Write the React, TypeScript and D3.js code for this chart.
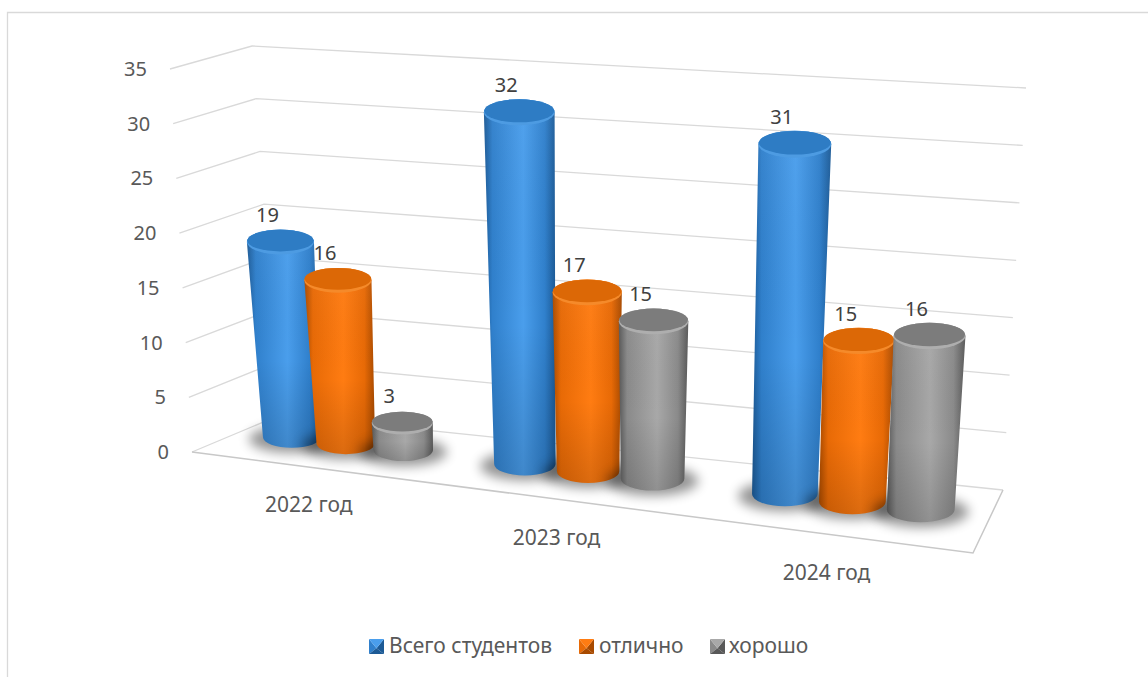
import React from "react";
import * as d3 from "d3";

const categories = ["2022 год", "2023 год", "2024 год"];
const seriesNames = ["Всего студентов", "отлично", "хорошо"];
const totalValues = [19, 32, 31];
const excellentValues = [16, 17, 15];
const goodValues = [3, 15, 16];
const seriesValues = [totalValues, excellentValues, goodValues];
const yTicks = [0, 5, 10, 15, 20, 25, 30, 35];

type P = [number, number];
// plot box corners: front-left, front-right, back-right, back-left
const floorQuad: P[] = [[192, 452], [973, 553], [1003, 490], [280, 415]];
const ceilQuad: P[] = [[170, 69], [1001, 138], [1026, 88], [252, 46]];

const bilinear = (q: P[]) => (u: number, w: number): P => {
  const fx = q[0][0] + (q[1][0] - q[0][0]) * u, fy = q[0][1] + (q[1][1] - q[0][1]) * u;
  const bx = q[3][0] + (q[2][0] - q[3][0]) * u, by = q[3][1] + (q[2][1] - q[3][1]) * u;
  return [fx + (bx - fx) * w, fy + (by - fy) * w];
};
const floorAt = bilinear(floorQuad);
const ceilAt = bilinear(ceilQuad);
const project = (u: number, w: number, t: number): P => {
  const a = floorAt(u, w), b = ceilAt(u, w);
  return [a[0] + (b[0] - a[0]) * t, a[1] + (b[1] - a[1]) * t];
};

const gridT = d3.scaleLinear().domain([0, 35]).range([0, 1]);
const barT = d3.scalePow().exponent(1.08).domain([0, 35]).range([0, 1]);
const warpU = d3.scalePow().exponent(1.12).domain([0, 1]).range([0.006, 1]);
const catU = d3.scaleBand().domain(categories).range([0, 1]);
const serU = d3.scaleBand().domain(seriesNames).range([0, catU.bandwidth()]).paddingInner(0).paddingOuter(0.5);
const depthW = 0.56;

const palette = [
  { light: "#4a9eec", mid: "#3080cc", dark: "#1c5a96", top: "#2e7cc4", rim: "#4d9be2" },
  { light: "#ff7c12", mid: "#e86a06", dark: "#a84a00", top: "#dc6806", rim: "#f58a2a" },
  { light: "#a8a8a8", mid: "#8a8a8a", dark: "#585858", top: "#7c7c7c", rim: "#aeaeae" },
];

function Cylinder({ s, c, value }: { s: number; c: number; value: number }) {
  const u = catU(categories[c])! + serU(seriesNames[s])! + serU.bandwidth() / 2;
  const t = barT(value);
  const at = (tt: number) => {
    const wu = warpU(u);
    const base = 0.038 + 0.008 * wu;
    const top = 0.043 + 0.004 * wu;
    const radius = base + (top - base) * Math.min(1, tt * 3);
    const l = project(wu - radius, depthW, tt), r = project(wu + radius, depthW, tt);
    const m = project(wu, depthW, tt);
    const rx = (r[0] - l[0]) / 2;
    return { cx: m[0], cy: m[1], rx, ry: rx * 0.37 };
  };
  const B = at(0), T = at(t);
  const path = `M${T.cx - T.rx},${T.cy} L${B.cx - B.rx},${B.cy}
    A${B.rx},${B.ry} 0 0 0 ${B.cx + B.rx},${B.cy}
    L${T.cx + T.rx},${T.cy}
    A${T.rx},${T.ry} 0 0 0 ${T.cx - T.rx},${T.cy} Z`;
  return (
    <g>
      <ellipse cx={B.cx} cy={B.cy + 2} rx={B.rx + 14} ry={B.ry + 3} fill="#000" opacity={0.42} filter="url(#shadowBlur)" />
      <path d={path} fill={`url(#body${s})`} />
      <path d={path} fill="url(#vshade)" />
      <ellipse cx={T.cx} cy={T.cy} rx={T.rx} ry={T.ry} fill={palette[s].rim} />
      <ellipse cx={T.cx} cy={T.cy - 1.5} rx={T.rx * 0.99} ry={T.ry * 0.88} fill={palette[s].top} />
    </g>
  );
}

function LegendKey({ x, y, s }: { x: number; y: number; s: number }) {
  const k = 15;
  const p = palette[s];
  const c = [k / 2, k * 0.62];
  const poly = (pts: number[][], fill: string) => <polygon points={pts.map((q) => q.join(",")).join(" ")} fill={fill} />;
  return (
    <g transform={`translate(${x},${y})`}>
      {poly([[0, 0], [0, k], c], p.mid)}
      {poly([[k, 0], [k, k], c], p.dark)}
      {poly([[0, k], [k, k], c], p.dark)}
      {poly([[0, 0], [k, 0], c], p.light)}
    </g>
  );
}

const axisFont = "'Noto Sans', sans-serif";
const gridStroke = "#d9d9d9";
const legendX = [369, 579, 710];
const legendTextX = [389, 599, 729];

export default function App() {
  const lineP = (pts: P[]) => d3.line()(pts) as string;
  return (
    <svg width={1148} height={677} style={{ position: "absolute", left: 0, top: 0, background: "#fff" }} fontFamily={axisFont}>
      <defs>
        <filter id="shadowBlur" x="-40%" y="-60%" width="180%" height="220%">
          <feGaussianBlur stdDeviation="6" />
        </filter>
        <linearGradient id="vshade" x1="0" y1="0" x2="0" y2="1">
          <stop offset="0" stopColor="#fff" stopOpacity="0.04" />
          <stop offset="0.6" stopColor="#000" stopOpacity="0" />
          <stop offset="1" stopColor="#000" stopOpacity="0.14" />
        </linearGradient>
        {palette.map((p, i) => (
          <linearGradient key={i} id={`body${i}`} x1="0" y1="0" x2="1" y2="0">
            <stop offset="0" stopColor={p.dark} />
            <stop offset="0.12" stopColor={p.mid} />
            <stop offset="0.55" stopColor={p.light} />
            <stop offset="0.85" stopColor={p.mid} />
            <stop offset="1" stopColor={p.dark} />
          </linearGradient>
        ))}
      </defs>

      <path d="M7.5,677 V12.5 H1148" fill="none" stroke="#d9d9d9" strokeWidth={1.3} />

      {yTicks.map((v) => {
        const t = gridT(v);
        const a = project(0, 0, t), b = project(0, 1, t), c = project(1, 1, t);
        return (
          <g key={v}>
            <path d={lineP([a, b, c])} fill="none" stroke={gridStroke} strokeWidth={1.3} />
            <text x={a[0] - 23} y={a[1] + 7} textAnchor="end" fontSize={20} fill="#595959">{v}</text>
          </g>
        );
      })}
      <path d={lineP([project(0, 0, 0), project(1, 0, 0), project(1, 1, 0)])} fill="none" stroke="#c8c8c8" strokeWidth={1.5} />

      {categories.map((cat) => {
        const u = warpU(catU(cat)! + catU.bandwidth() / 2);
        const p = project(u, 0, 0);
        return (
          <text key={cat} x={p[0] + 10 - 16 * u} y={p[1] + 46} textAnchor="middle" fontSize={21} fill="#595959">{cat}</text>
        );
      })}

      {categories.map((_, c) => seriesNames.map((_, s) => <Cylinder key={`${c}-${s}`} s={s} c={c} value={seriesValues[s][c]} />))}

      {categories.map((cat, c) => seriesNames.map((name, s) => {
        const u = catU(cat)! + serU(name)! + serU.bandwidth() / 2;
        const v = seriesValues[s][c];
        const p = project(warpU(u), depthW, barT(v));
        return <text key={`${c}-${s}`} x={p[0] - 13} y={p[1] - 20} textAnchor="middle" fontSize={20} fill="#404040">{v}</text>;
      }))}

      {seriesNames.map((n, s) => (
        <g key={n}>
          <LegendKey x={legendX[s]} y={639} s={s} />
          <text x={legendTextX[s]} y={653} fontSize={21} fill="#595959">{n}</text>
        </g>
      ))}
    </svg>
  );
}
